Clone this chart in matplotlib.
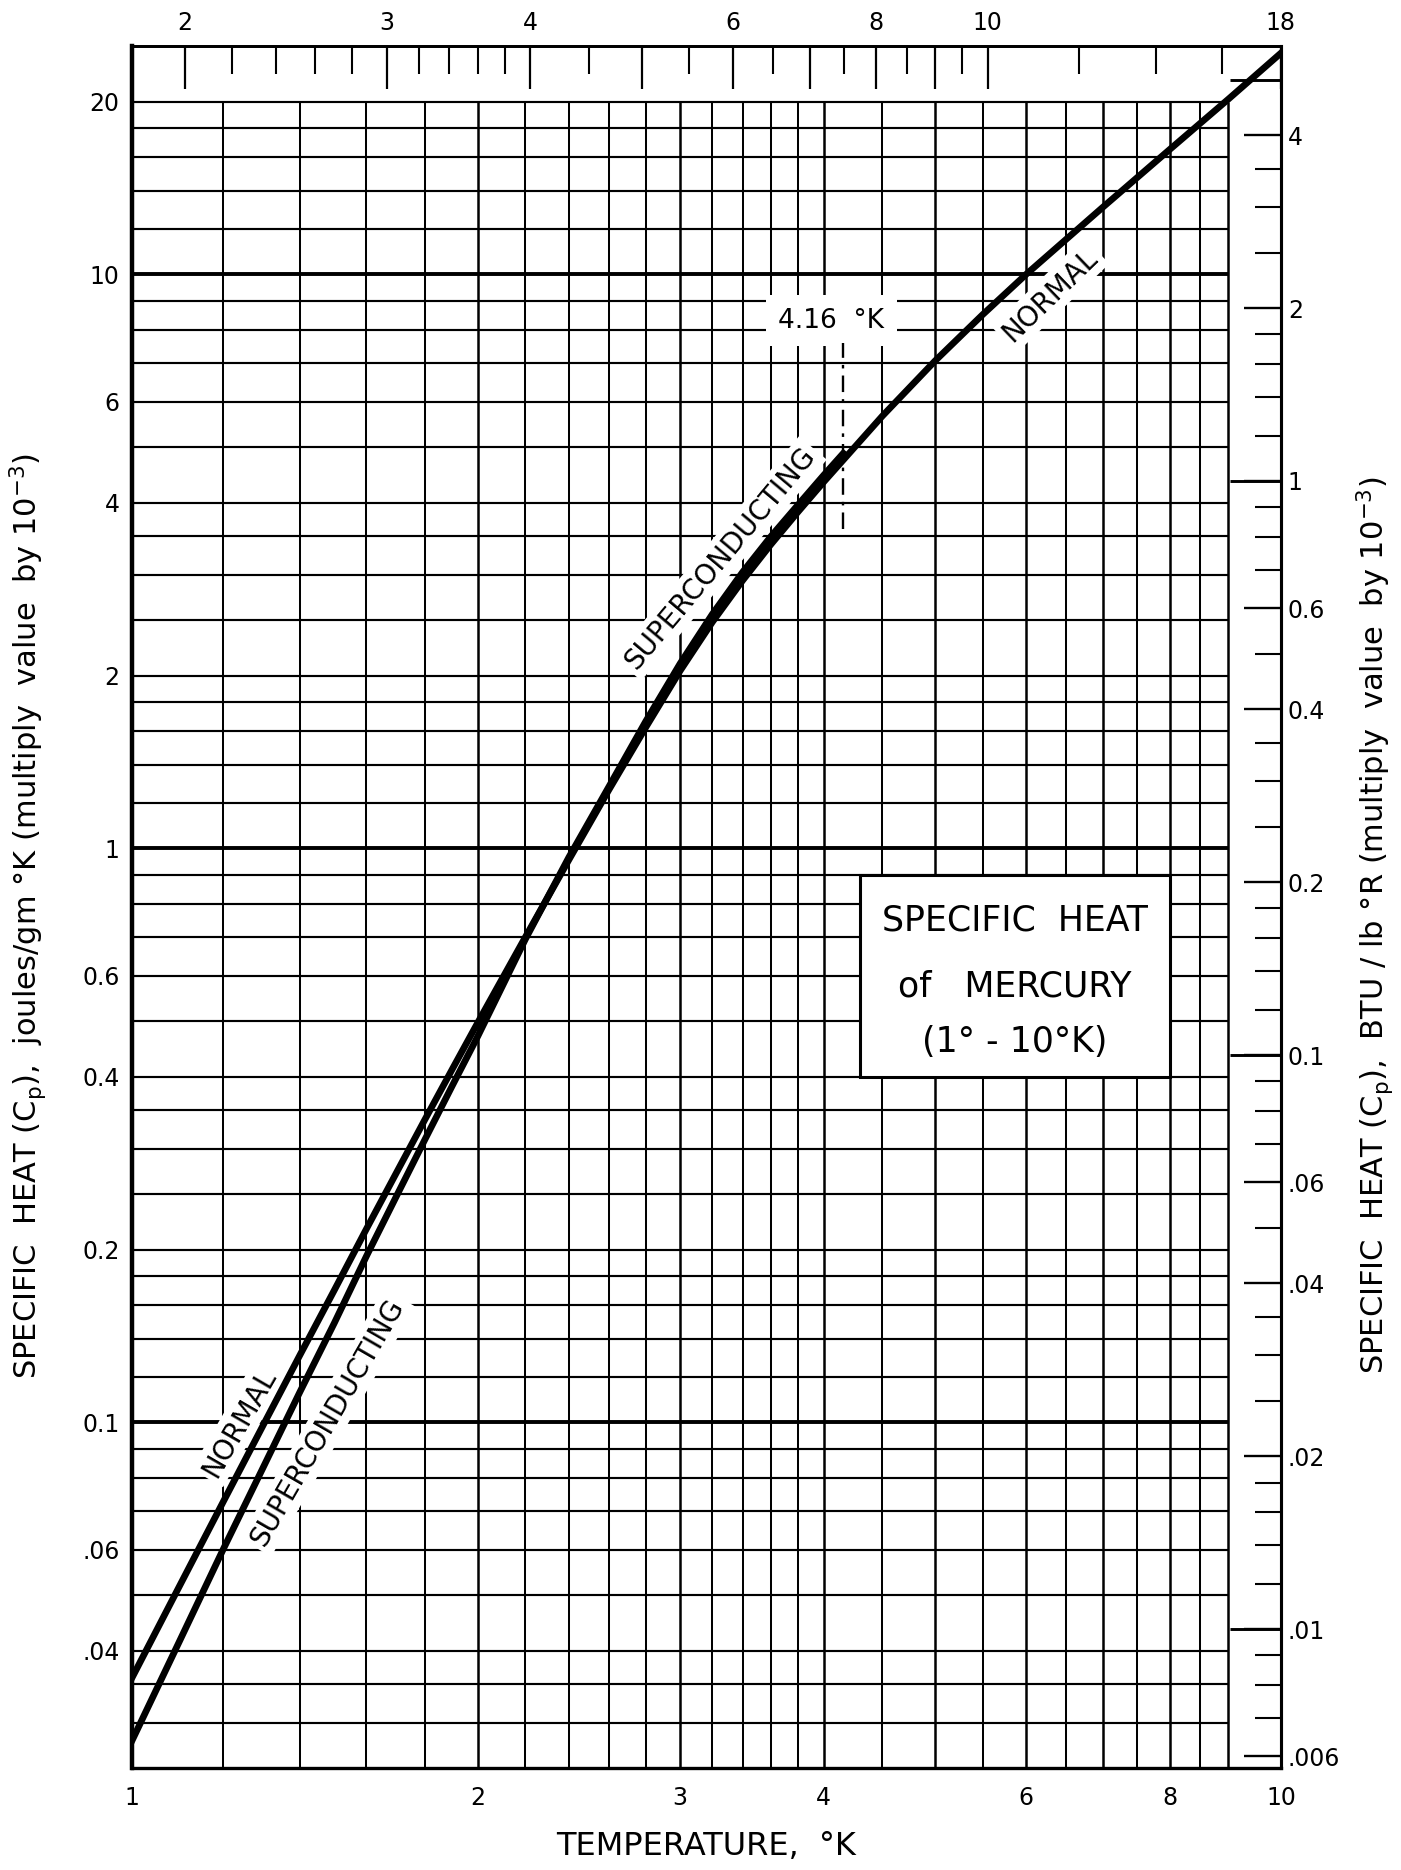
import matplotlib
matplotlib.use('Agg')
import matplotlib.pyplot as plt
from matplotlib.ticker import FixedLocator, FixedFormatter, NullFormatter, NullLocator
from matplotlib.patches import Rectangle

plt.rcParams['font.family'] = ['DejaVu Sans']
plt.rcParams['mathtext.default'] = 'regular'

# curvas: temperatura (K) x calor especifico (10^-3 J/g K)
normal_T = [1.0, 1.1, 1.2, 1.3, 1.4, 1.5, 1.6, 1.7, 1.8, 1.9, 2.0, 2.2, 2.4, 2.6, 2.8,
            3.0, 3.2, 3.4, 3.6, 3.8, 4.0, 4.5, 5.0, 5.5, 6.0, 7.0, 8.0, 9.0, 10.0]
normal_cp = [0.0359, 0.0519, 0.0726, 0.0987, 0.131, 0.170, 0.2175, 0.273, 0.338, 0.4125,
             0.4975, 0.701, 0.955, 1.264, 1.625, 2.04, 2.48, 2.93, 3.39, 3.86, 4.35, 5.67,
             7.07, 8.51, 10.0, 13.1, 16.5, 20.2, 24.3]

super_T = [1.0, 1.1, 1.2, 1.3, 1.4, 1.5, 1.6, 1.7, 1.8, 1.9, 2.0, 2.2, 2.4, 2.6, 2.8,
           3.0, 3.2, 3.4, 3.6, 3.8, 4.0, 4.16]
super_cp = [0.0279, 0.0416, 0.060, 0.0833, 0.113, 0.149, 0.195, 0.2485, 0.312, 0.386,
            0.471, 0.695, 0.965, 1.28, 1.665, 2.10, 2.56, 3.03, 3.50, 3.97, 4.47, 4.88]

# temperatura de transicao e trecho da linha traco-ponto
tc = 4.16
tc_faixa = [3.6, 7.6]

# conversoes das escalas auxiliares
fator_rankine = 1.8
fator_btu = 0.229

# escala de baixo (K) e da esquerda (J/g K)
ticks_k = [1, 2, 3, 4, 6, 8, 10]
rotulos_k = ['1', '2', '3', '4', '6', '8', '10']
ticks_j = [20, 10, 6, 4, 2, 1, 0.6, 0.4, 0.2, 0.1, 0.06, 0.04]
rotulos_j = ['20', '10', '6', '4', '2', '1', '0.6', '0.4', '0.2', '0.1', '.06', '.04']

# escala de cima (R)
ticks_r = [2, 3, 4, 5, 6, 7, 8, 9, 10, 18]
rotulos_r = ['2', '3', '4', '', '6', '', '8', '', '10', '18']
ticks_r_menor = [2.2, 2.4, 2.6, 2.8, 3.2, 3.4, 3.6, 3.8, 4.5, 5.5, 6.5, 7.5, 8.5, 9.5, 12, 14, 16]

# escala da direita (BTU/lb R)
ticks_btu = [4, 2, 1, 0.6, 0.4, 0.2, 0.1, 0.06, 0.04, 0.02, 0.01, 0.006]
rotulos_btu = ['4', '2', '1', '0.6', '0.4', '0.2', '0.1', '.06', '.04', '.02', '.01', '.006']
ticks_btu_longo = [5, 1, 0.1, 0.01]
ticks_btu_menor = [0.007, 0.008, 0.009, 0.012, 0.014, 0.016, 0.018, 0.025, 0.03, 0.035,
                   0.05, 0.07, 0.08, 0.09, 0.12, 0.14, 0.16, 0.18, 0.25, 0.3, 0.35,
                   0.5, 0.7, 0.8, 0.9, 1.2, 1.4, 1.6, 1.8, 2.5, 3, 3.5]

# linhas do papel log-log
grade_x = [1.2, 1.4, 1.6, 1.8, 2.0, 2.2, 2.4, 2.6, 2.8, 3.0, 3.2, 3.4, 3.6, 3.8, 4.0,
           4.5, 5.0, 5.5, 6.0, 6.5, 7.0, 7.5, 8.0, 8.5, 9.0]
grade_y = [0.03, 0.035, 0.04, 0.05, 0.06, 0.07, 0.08, 0.09,
           0.1, 0.12, 0.14, 0.16, 0.18, 0.2, 0.25, 0.3, 0.35, 0.4, 0.5, 0.6, 0.7, 0.8, 0.9,
           1, 1.2, 1.4, 1.6, 1.8, 2, 2.5, 3, 3.5, 4, 5, 6, 7, 8, 9,
           10, 12, 14, 16, 18, 20]
grade_x_forte = [2.0, 3.0, 4.0, 5.0, 6.0, 7.0, 8.0, 9.0]
grade_y_forte = [0.1, 1, 10]

x_min, x_max, x_grade = 1, 10, 9
y_min, y_max, y_grade = 0.025, 25, 20

fig = plt.figure(figsize=(14.01, 18.70), dpi=100)
ax = fig.add_axes([0.0942, 0.0545, 0.8201, 0.9209])
ax.set_xscale('log')
ax.set_yscale('log')
ax.set_xlim(x_min, x_max)
ax.set_ylim(y_min, y_max)

# grade
fracos_x = [v for v in grade_x if v not in grade_x_forte]
fracos_y = [v for v in grade_y if v not in grade_y_forte]
ax.vlines(fracos_x, y_min, y_grade, color='black', lw=1.45, zorder=1)
ax.vlines(grade_x_forte, y_min, y_grade, color='black', lw=1.8, zorder=1)
ax.hlines(fracos_y, x_min, x_grade, color='black', lw=1.55, zorder=1)
ax.hlines(grade_y_forte, x_min, x_grade, color='black', lw=2.8, zorder=1)

# curvas
ax.plot(normal_T, normal_cp, color='black', lw=4.8, zorder=4, solid_joinstyle='round')
ax.plot(super_T, super_cp, color='black', lw=4.8, zorder=4, solid_joinstyle='round')
ax.plot([tc, tc], tc_faixa, color='black', lw=1.7, linestyle=(0, (7, 3, 1.5, 3)), zorder=4)

# rotulos das curvas
caixa = dict(facecolor='white', edgecolor='none', pad=3)
ax.text(1.24, 0.1, 'NORMAL', rotation=60, rotation_mode='anchor', ha='center', va='center',
        fontsize=20, bbox=caixa, zorder=3)
ax.text(1.48, 0.1, 'SUPERCONDUCTING', rotation=60, rotation_mode='anchor', ha='center',
        va='center', fontsize=20, bbox=caixa, zorder=3)
ax.text(3.25, 3.2, 'SUPERCONDUCTING', rotation=50, rotation_mode='anchor', ha='center',
        va='center', fontsize=20, bbox=caixa, zorder=3)
ax.text(6.3, 9.2, 'NORMAL', rotation=44, rotation_mode='anchor', ha='center', va='center',
        fontsize=20, bbox=caixa, zorder=3)
ax.text(4.06, 8.3, '4.16  °K', ha='center', va='center', fontsize=19,
        bbox=dict(facecolor='white', edgecolor='none', pad=9), zorder=3)

# caixa do titulo
caixa_x = [4.3, 8.0]
caixa_y = [0.4, 0.9]
ax.add_patch(Rectangle((caixa_x[0], caixa_y[0]), caixa_x[1] - caixa_x[0], caixa_y[1] - caixa_y[0],
                       facecolor='white', edgecolor='black', lw=2.2, zorder=2))
ax.text(5.87, 0.75, 'SPECIFIC  HEAT', ha='center', va='center', fontsize=25, zorder=3)
ax.text(5.87, 0.575, 'of   MERCURY', ha='center', va='center', fontsize=25, zorder=3)
ax.text(5.87, 0.46, '(1° - 10°K)', ha='center', va='center', fontsize=25, zorder=3)

# eixos principais
ax.xaxis.set_major_locator(FixedLocator(ticks_k))
ax.xaxis.set_major_formatter(FixedFormatter(rotulos_k))
ax.xaxis.set_minor_locator(NullLocator())
ax.yaxis.set_major_locator(FixedLocator(ticks_j))
ax.yaxis.set_major_formatter(FixedFormatter(rotulos_j))
ax.yaxis.set_minor_locator(NullLocator())
ax.tick_params(axis='x', length=0, pad=13, labelsize=17)
ax.tick_params(axis='y', length=0, pad=9, labelsize=17)
ax.spines['left'].set_linewidth(3.2)
ax.spines['bottom'].set_linewidth(2.4)
ax.spines['top'].set_linewidth(2.0)
ax.spines['right'].set_linewidth(2.2)
for s in ax.spines.values():
    s.set_zorder(5)

# escala de cima em graus Rankine
secx = ax.secondary_xaxis('top', functions=(lambda k: k * fator_rankine, lambda r: r / fator_rankine))
secx.xaxis.set_major_locator(FixedLocator(ticks_r))
secx.xaxis.set_major_formatter(FixedFormatter(rotulos_r))
secx.xaxis.set_minor_locator(FixedLocator(ticks_r_menor))
secx.xaxis.set_minor_formatter(NullFormatter())
secx.tick_params(which='major', direction='in', length=31, width=1.6, pad=8, labelsize=17)
secx.tick_params(which='minor', direction='in', length=20, width=1.5)
secx.spines['top'].set_linewidth(2.0)

# escala da direita em BTU/lb R
secy = ax.secondary_yaxis('right', functions=(lambda j: j * fator_btu, lambda b: b / fator_btu))
secy.yaxis.set_major_locator(FixedLocator(ticks_btu))
secy.yaxis.set_major_formatter(FixedFormatter(rotulos_btu))
secy.yaxis.set_minor_locator(FixedLocator(ticks_btu_menor))
secy.yaxis.set_minor_formatter(NullFormatter())
secy.tick_params(which='major', direction='in', length=27, width=1.7, pad=5, labelsize=17)
secy.tick_params(which='minor', direction='in', length=19, width=1.5)
secy.spines['right'].set_linewidth(2.2)

secy2 = ax.secondary_yaxis('right', functions=(lambda j: j * fator_btu, lambda b: b / fator_btu))
secy2.yaxis.set_major_locator(FixedLocator(ticks_btu_longo))
secy2.yaxis.set_major_formatter(NullFormatter())
secy2.yaxis.set_minor_locator(NullLocator())
secy2.tick_params(which='major', direction='in', length=37, width=2.1)

# titulos dos eixos
fig.text(0.504, 0.0125, 'TEMPERATURE,  °K', ha='center', va='center', fontsize=23)
fig.text(0.020, 0.51, 'SPECIFIC  HEAT (C$_p$),  joules/gm °K (multiply  value  by 10$^{-3}$)',
         rotation=90, ha='center', va='center', fontsize=22)
fig.text(0.982, 0.505, 'SPECIFIC  HEAT (C$_p$),  BTU / lb °R (multiply  value  by 10$^{-3}$)',
         rotation=90, ha='center', va='center', fontsize=22)

fig.savefig('out.png', dpi=100)
